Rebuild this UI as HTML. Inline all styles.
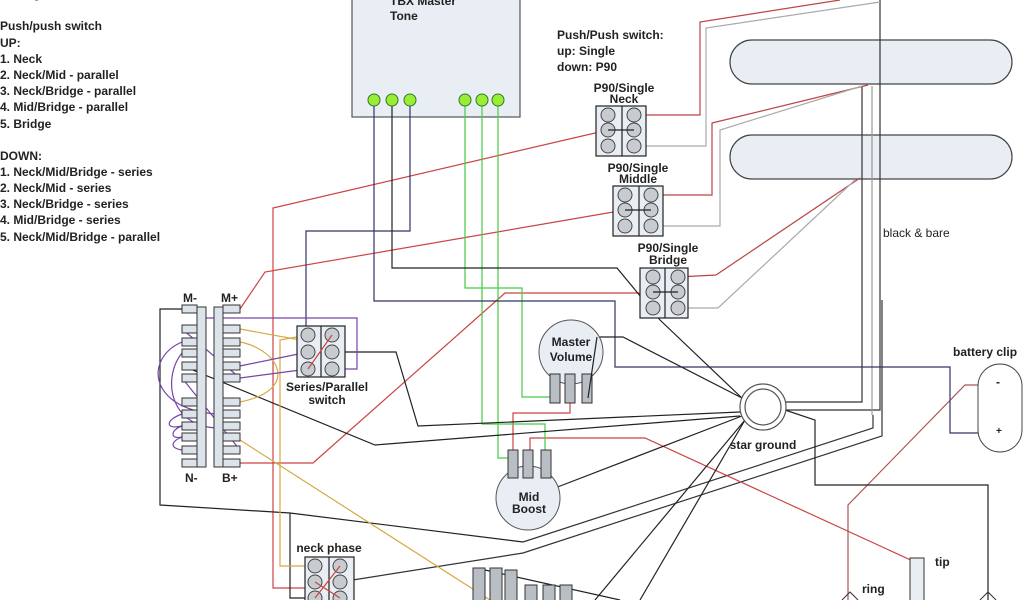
<!DOCTYPE html>
<html><head><meta charset="utf-8"><style>
html,body{margin:0;padding:0;background:#fff;}
svg{display:block;}
text{font-family:"Liberation Sans",Arial,sans-serif;font-size:12px;fill:#222;}
.b{font-weight:bold;}
</style></head><body>
<svg width="1024" height="600" viewBox="0 0 1024 600" xmlns="http://www.w3.org/2000/svg">
<g fill="none" stroke-width="1.2">
<rect x="730" y="40" width="282" height="44" rx="22" fill="#e8eef4" stroke="#444"/>
<rect x="730" y="135" width="282" height="44" rx="22" fill="#e8eef4" stroke="#444"/>
<rect x="352" y="-5" width="168" height="122" fill="#e8eef3" stroke="#555"/>
<polyline points="880,0 880,410 785,410" stroke="#333"/>
<polyline points="872,86 872,415" stroke="#999"/>
<polyline points="862,86 862,402 785,402" stroke="#333"/>
<polyline points="523,542 873,428 873,415" stroke="#333"/>
<polyline points="340,582 523,553 882,436 882,300" stroke="#333"/>
<polyline points="634,115 700,115 700,22 840,0" stroke="#b44"/>
<polyline points="634,146 706,146 706,28 880,2" stroke="#aaa"/>
<polyline points="651,195 712,195 712,123 868,85" stroke="#b44"/>
<polyline points="651,226 720,226 720,130 862,86" stroke="#aaa"/>
<polyline points="678,277 716,275 860,178" stroke="#b44"/>
<polyline points="678,308 718,308 855,180" stroke="#aaa"/>
<polyline points="608,130 273,208 273,588 315,588" stroke="#c44"/>
<polyline points="240,309 265,272 625,210" stroke="#c44"/>
<polyline points="240,463 313,463 505,293 653,293" stroke="#c44"/>
<polyline points="570,403 570,413 513,413 513,450" stroke="#c44"/>
<polyline points="530,450 530,438 645,438 915,562" stroke="#c44"/>
<polyline points="990,385 965,385 848,505 848,600" stroke="#a55"/>
<polyline points="465,100 465,288 522,288 522,397 553,397" stroke="#4c4"/>
<polyline points="482,100 482,424 545,424 545,452" stroke="#4c4"/>
<polyline points="498,100 498,458 510,458 510,452" stroke="#4c4"/>
<polyline points="374,100 374,301 615,301 615,367 950,367 950,433 995,433" stroke="#336"/>
<polyline points="410,100 410,231 306,231 306,335" stroke="#336"/>
<polyline points="392,100 392,268 617,268 660,320 744,400" stroke="#222"/>
<polyline points="588,400 597,337 623,337 742,398" stroke="#222"/>
<polyline points="332,352 396,352 418,426 740,412" stroke="#222"/>
<polyline points="183,366 375,445 740,416" stroke="#222"/>
<polyline points="555,488 742,416" stroke="#222"/>
<polyline points="182,309 160,309 160,505 290,513 523,542" stroke="#222"/>
<polyline points="290,513 290,598 305,598" stroke="#222"/>
<polyline points="785,410 815,420 815,485 988,485 988,600" stroke="#222"/>
<polyline points="745,420 640,600" stroke="#222"/>
<polyline points="745,420 595,600" stroke="#222"/>
<polyline points="485,570 620,600" stroke="#222"/>
<polyline points="308,335 280,340 280,566 315,566" stroke="#d9a845"/>
<polyline points="240,329 300,340" stroke="#d9a845"/>
<polyline points="240,440 490,600" stroke="#d9a845"/>
<path d="M240,342 C280,350 300,390 240,402" stroke="#d9a845"/>
<polyline points="202,318 357,318 357,369 345,369" stroke="#74a"/>
<polyline points="240,366 308,352" stroke="#74a"/>
<polyline points="240,378 308,369" stroke="#74a"/>
<path d="M182,342 C140,360 150,420 240,414" stroke="#74a"/>
<path d="M182,353 C160,380 170,440 240,426" stroke="#74a"/>
<path d="M182,329 L240,378" stroke="#74a"/>
<path d="M182,378 L240,450" stroke="#74a"/>
<path d="M182,426 C170,430 170,440 182,437" stroke="#74a"/>
<path d="M182,437 C170,442 170,448 182,450" stroke="#74a"/>
<path d="M182,414 C165,420 165,430 182,426" stroke="#74a"/>
</g>
<g fill="#9e3" stroke="#373" stroke-width="1">
<circle cx="374" cy="100" r="6"/><circle cx="392" cy="100" r="6"/><circle cx="410" cy="100" r="6"/>
<circle cx="465" cy="100" r="6"/><circle cx="482" cy="100" r="6"/><circle cx="498" cy="100" r="6"/>
</g>
<g stroke="#222" stroke-width="1.2">
<rect x="596" y="106" width="50" height="50" fill="#e8eef3"/><line x1="622" y1="106" x2="622" y2="156"/>
<rect x="613" y="186" width="50" height="50" fill="#e8eef3"/><line x1="639" y1="186" x2="639" y2="236"/>
<rect x="640" y="268" width="48" height="50" fill="#e8eef3"/><line x1="665" y1="268" x2="665" y2="318"/>
<rect x="297" y="326" width="48" height="51" fill="#e8eef3"/><line x1="321" y1="326" x2="321" y2="377"/>
<rect x="305" y="557" width="49" height="50" fill="#e8eef3"/><line x1="329" y1="557" x2="329" y2="607"/>
</g>
<g fill="#c8cbd0" stroke="#444" stroke-width="1">
<circle cx="608" cy="115" r="7"/><circle cx="608" cy="130" r="7"/><circle cx="608" cy="146" r="7"/>
<circle cx="634" cy="115" r="7"/><circle cx="634" cy="130" r="7"/><circle cx="634" cy="146" r="7"/>
<circle cx="625" cy="195" r="7"/><circle cx="625" cy="210" r="7"/><circle cx="625" cy="226" r="7"/>
<circle cx="651" cy="195" r="7"/><circle cx="651" cy="210" r="7"/><circle cx="651" cy="226" r="7"/>
<circle cx="653" cy="277" r="7"/><circle cx="653" cy="292" r="7"/><circle cx="653" cy="308" r="7"/>
<circle cx="678" cy="277" r="7"/><circle cx="678" cy="292" r="7"/><circle cx="678" cy="308" r="7"/>
<circle cx="308" cy="335" r="7"/><circle cx="308" cy="352" r="7"/><circle cx="308" cy="369" r="7"/>
<circle cx="332" cy="335" r="7"/><circle cx="332" cy="352" r="7"/><circle cx="332" cy="369" r="7"/>
<circle cx="315" cy="566" r="7"/><circle cx="315" cy="582" r="7"/><circle cx="315" cy="598" r="7"/>
<circle cx="340" cy="566" r="7"/><circle cx="340" cy="582" r="7"/><circle cx="340" cy="598" r="7"/>
</g>
<g stroke-width="1.2" fill="none">
<line x1="608" y1="130" x2="634" y2="130" stroke="#222"/>
<line x1="625" y1="210" x2="651" y2="210" stroke="#222"/>
<line x1="653" y1="292" x2="678" y2="292" stroke="#222"/>
<line x1="308" y1="369" x2="332" y2="335" stroke="#c44"/>
<line x1="315" y1="582" x2="340" y2="598" stroke="#c44"/>
<line x1="315" y1="598" x2="340" y2="566" stroke="#c44"/>
</g>
<g fill="#dde3ea" stroke="#333" stroke-width="1">
<rect x="197" y="307" width="9" height="160"/><rect x="214" y="307" width="9" height="160"/>
<rect x="182" y="305" width="15" height="8"/><rect x="182" y="325" width="15" height="8"/><rect x="182" y="338" width="15" height="8"/><rect x="182" y="349" width="15" height="8"/><rect x="182" y="362" width="15" height="8"/><rect x="182" y="374" width="15" height="8"/><rect x="182" y="398" width="15" height="8"/><rect x="182" y="410" width="15" height="8"/><rect x="182" y="422" width="15" height="8"/><rect x="182" y="433" width="15" height="8"/><rect x="182" y="446" width="15" height="8"/><rect x="182" y="459" width="15" height="8"/>
<rect x="223" y="305" width="17" height="8"/><rect x="223" y="325" width="17" height="8"/><rect x="223" y="338" width="17" height="8"/><rect x="223" y="349" width="17" height="8"/><rect x="223" y="362" width="17" height="8"/><rect x="223" y="374" width="17" height="8"/><rect x="223" y="398" width="17" height="8"/><rect x="223" y="410" width="17" height="8"/><rect x="223" y="422" width="17" height="8"/><rect x="223" y="433" width="17" height="8"/><rect x="223" y="446" width="17" height="8"/><rect x="223" y="459" width="17" height="8"/>
</g>
<circle cx="571" cy="352" r="32" fill="#e8eef3" stroke="#555"/>
<circle cx="528" cy="498" r="32" fill="#e8eef3" stroke="#555"/>
<g fill="#b9bec5" stroke="#333" stroke-width="1">
<rect x="550" y="374" width="10" height="29"/><rect x="565" y="374" width="10" height="29"/><rect x="582" y="374" width="10" height="29"/>
<rect x="508" y="450" width="10" height="28"/><rect x="523" y="450" width="10" height="28"/><rect x="541" y="450" width="10" height="28"/>
<rect x="473" y="568" width="12" height="40"/><rect x="490" y="568" width="12" height="40"/><rect x="505" y="570" width="12" height="40"/>
<rect x="525" y="585" width="12" height="30"/><rect x="543" y="585" width="12" height="30"/><rect x="560" y="585" width="12" height="30"/>
</g>
<line x1="588" y1="398" x2="597" y2="337" stroke="#222" stroke-width="1.2"/>
<circle cx="763" cy="407" r="23" fill="#fff" stroke="#555" stroke-width="1.2"/>
<circle cx="763" cy="407" r="18" fill="#fff" stroke="#555" stroke-width="1.2"/>
<rect x="978" y="364" width="44" height="88" rx="22" fill="#fff" stroke="#444"/>
<rect x="910" y="558" width="14" height="45" fill="#e8eef3" stroke="#333"/>
<path d="M842,600 L850,592 L858,600" fill="none" stroke="#333"/>
<path d="M980,600 L988,592 L996,600" fill="none" stroke="#333"/>
<g class="b">
<text x="0" y="-2">Settings</text>
<text x="0" y="30">Push/push switch</text>
<text x="0" y="47">UP:</text>
<text x="0" y="63">1.  Neck</text>
<text x="0" y="79">2.  Neck/Mid - parallel</text>
<text x="0" y="95">3.  Neck/Bridge - parallel</text>
<text x="0" y="111">4.  Mid/Bridge - parallel</text>
<text x="0" y="128">5.  Bridge</text>
<text x="0" y="160">DOWN:</text>
<text x="0" y="176">1.  Neck/Mid/Bridge - series</text>
<text x="0" y="192">2.  Neck/Mid - series</text>
<text x="0" y="208">3.  Neck/Bridge - series</text>
<text x="0" y="224">4.  Mid/Bridge - series</text>
<text x="0" y="241">5.  Neck/Mid/Bridge - parallel</text>
<text x="390" y="5">TBX Master</text>
<text x="390" y="20">Tone</text>
<text x="557" y="39">Push/Push switch:</text>
<text x="557" y="55">up: Single</text>
<text x="557" y="71">down: P90</text>
<text x="624" y="92" text-anchor="middle">P90/Single</text>
<text x="624" y="103" text-anchor="middle">Neck</text>
<text x="638" y="172" text-anchor="middle">P90/Single</text>
<text x="638" y="183" text-anchor="middle">Middle</text>
<text x="668" y="252" text-anchor="middle">P90/Single</text>
<text x="668" y="264" text-anchor="middle">Bridge</text>
<text x="571" y="346" text-anchor="middle">Master</text>
<text x="571" y="361" text-anchor="middle">Volume</text>
<text x="529" y="501" text-anchor="middle">Mid</text>
<text x="529" y="513" text-anchor="middle">Boost</text>
<text x="327" y="391" text-anchor="middle">Series/Parallel</text>
<text x="327" y="404" text-anchor="middle">switch</text>
<text x="329" y="552" text-anchor="middle">neck phase</text>
<text x="763" y="449" text-anchor="middle">star ground</text>
<text x="953" y="356">battery clip</text>
<text x="996" y="386">-</text>
<text x="996" y="434" style="font-size:10px">+</text>
<text x="935" y="566">tip</text>
<text x="862" y="593">ring</text>
<text x="183" y="302">M-</text>
<text x="221" y="302">M+</text>
<text x="185" y="482">N-</text>
<text x="222" y="482">B+</text>
</g>
<text x="883" y="237">black &amp; bare</text>
</svg>
</body></html>
